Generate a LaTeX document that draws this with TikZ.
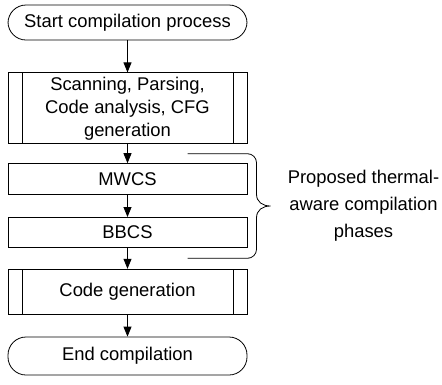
\documentclass[tikz,border=0pt]{standalone}
\usepackage{fontspec}
\setmainfont{Liberation Sans}
\usetikzlibrary{arrows.meta,positioning,calc}

\begin{document}
\begin{tikzpicture}[x=1pt, y=1pt, line width=0.8pt,
    font=\fontsize{18.4}{23}\selectfont,
    terminal/.style={rectangle, draw, rounded corners=18pt, minimum width=239pt, minimum height=35pt, inner sep=0pt, align=center},
    predef/.style={rectangle, draw, minimum width=239pt, inner sep=0pt, align=center,
        path picture={
            \draw ([xshift=14pt]path picture bounding box.north west) -- ([xshift=14pt]path picture bounding box.south west);
            \draw ([xshift=-14pt]path picture bounding box.north east) -- ([xshift=-14pt]path picture bounding box.south east);}},
    process/.style={rectangle, draw, minimum width=239pt, minimum height=30pt, inner sep=0pt},
    line/.style={draw, -{Triangle[length=10pt,width=8pt]}}]
    \useasboundingbox (0,0) rectangle (442,-384);

    % Main flow
    \node [terminal] (start_comp) at (127.5,-22.5) {Start compilation process};
    \node [predef, minimum height=71pt, below=32pt of start_comp] (scan_parse) {Scanning, Parsing,\\Code analysis, CFG\\generation};
    \node [process, minimum height=31pt, below=19pt of scan_parse] (mwcs) {MWCS};
    \node [process, below=22pt of mwcs] (bbcs) {BBCS};
    \node [predef, minimum height=45pt, below=21pt of bbcs] (code_gen) {Code generation};
    \node [terminal, minimum height=38pt, below=22pt of code_gen] (end_comp) {End compilation};

    % Connectors
    \draw [line] (start_comp) -- (scan_parse);
    \draw [line] (scan_parse) -- (mwcs);
    \draw [line] (mwcs) -- (bbcs);
    \draw [line] (bbcs) -- (code_gen);
    \draw [line] (code_gen) -- (end_comp);

    % Brace round the proposed phases
    \coordinate (brace_top) at ($(scan_parse.south)!0.5!(mwcs.north) + (60,0)$);
    \coordinate (brace_bot) at ($(bbcs.south)!0.5!(code_gen.north) + (60,0)$);
    \coordinate (brace_tip) at ($(brace_top)!0.5!(brace_bot) + (83,0)$);
    \draw (brace_top) -- ++(60,0) arc[start angle=90, end angle=0, radius=9]
        -- ($(brace_tip)+(-14,12)$) .. controls +(0,-8) and +(-8,0) .. (brace_tip)
        .. controls +(-8,0) and +(0,8) .. ($(brace_tip)+(-14,-12)$)
        -- ($(brace_bot)+(69,9)$) arc[start angle=0, end angle=-90, radius=9] -- (brace_bot);
    \node [align=center, font=\fontsize{18.4}{27}\selectfont] (phase_label) at ($(brace_tip)+(93,0)$) {Proposed thermal-\\aware compilation\\phases};
\end{tikzpicture}
\end{document}
